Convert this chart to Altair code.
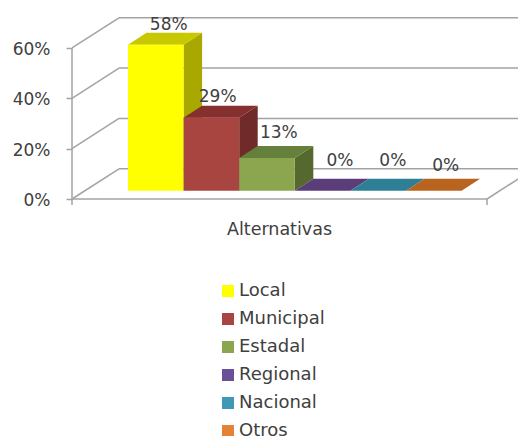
import altair as alt
import pandas as pd

categories = ["Local", "Municipal", "Estadal", "Regional", "Nacional", "Otros"]
values = [58, 29, 13, 0, 0, 0]
front_colors = ["#ffff00", "#a84541", "#8ca64f", "#6a4f99", "#3f98b5", "#e48336"]
top_colors = ["#c8c800", "#852f2e", "#64803a", "#5b3d7a", "#2e7f96", "#b8641f"]
side_colors = ["#a8a800", "#6f2a29", "#55692f", "#4c3366", "#266a7d", "#9c5319"]
grid_ticks = [0, 20, 40, 60]
font = "DejaVu Sans"
text_color = "#404040"
line_color = "#a3a3a3"

# drawing set-up of the pseudo 3D box
W, H = 510, 428
PX_X = 55.6      # pixels per bar
PX_Y = 2.517     # pixels per percent
X0 = 120         # left edge of the first bar
Y0 = 191         # the 0% line
BASE = 3.3       # lift of the bars above the front edge, in percent
BAR_DX, BAR_DY = 18.5 / PX_X, 12 / PX_Y
BOX_DX, BOX_DY = 47 / PX_X, 12.0
LEFT, RIGHT = (64 - X0) / PX_X, (479 - X0) / PX_X
# nudges of the value labels relative to the back of each bar (x in bars, y in percent)
label_dx = [-0.1, -0.22, -0.12, -0.02, -0.07, -0.12]
label_dy = [3.0, 3.4, 5.0, 7.2, 7.2, 5.2]

axis_x = alt.Axis(title="Alternativas", labels=False, ticks=False, domain=False, grid=False,
                  titleFont=font, titleFontSize=17.5, titleFontWeight="normal", titleColor=text_color,
                  titleX=271, titleY=-207, titleBaseline="middle", titleAlign="center")
axis_y = alt.Axis(values=grid_ticks, labelExpr="datum.value + '%'", title=None, domain=False,
                  grid=False, offset=-64, tickColor=line_color, tickWidth=1.5, tickSize=6, labelPadding=16,
                  labelOffset=1.5, labelFont=font, labelFontSize=17, labelColor=text_color)

xs = alt.Scale(domain=[-X0 / PX_X, (W - X0) / PX_X], nice=False, zero=False)
ys = alt.Scale(domain=[(Y0 - H) / PX_Y, Y0 / PX_Y], nice=False, zero=False)
X = lambda f: alt.X(f, type="quantitative", scale=xs, axis=axis_x)
Y = lambda f: alt.Y(f, type="quantitative", scale=ys, axis=axis_y)

front, side, top, labels = [], [], [], []
for i, (c, v) in enumerate(zip(categories, values)):
    t = BASE + v
    front.append(dict(c=c, x=i, x2=i + 1, y=BASE, y2=t))
    side.extend([
        dict(c=c, col=side_colors[i], x=i + 1, y=BASE, y2=t),
        dict(c=c, col=side_colors[i], x=i + 1 + BAR_DX, y=BASE + BAR_DY, y2=t + BAR_DY),
    ])
    top.extend([
        dict(c=c, col=top_colors[i], y=t, x=i, x2=i + 1),
        dict(c=c, col=top_colors[i], y=t + BAR_DY, x=i + BAR_DX, x2=i + 1 + BAR_DX),
    ])
    labels.append(dict(t=f"{v}%", x=i + 0.5 + BAR_DX + label_dx[i], y=t + BAR_DY + label_dy[i]))

# box lines
lines = []
for g in grid_ticks:
    lines.extend([
        dict(k=f"d{g}", x=LEFT, y=g),
        dict(k=f"d{g}", x=LEFT + BOX_DX, y=g + BOX_DY),
        dict(k=f"b{g}", x=LEFT + BOX_DX, y=g + BOX_DY),
        dict(k=f"b{g}", x=(W - X0) / PX_X, y=g + BOX_DY),
    ])
lines.extend([
    dict(k="front", x=LEFT, y=0), dict(k="front", x=RIGHT, y=0),
    dict(k="rd", x=RIGHT, y=0), dict(k="rd", x=RIGHT + BOX_DX, y=BOX_DY),
    dict(k="ax", x=LEFT, y=60), dict(k="ax", x=LEFT, y=-2.4),
    dict(k="rt", x=RIGHT, y=0), dict(k="rt", x=RIGHT, y=-2.4),
])

box = alt.Chart(pd.DataFrame(lines)).mark_line(color=line_color, strokeWidth=1.5, clip=True).encode(
    x=X("x"), y=Y("y"), detail="k:N", order="x:Q")

side_layer = alt.Chart(pd.DataFrame(side)).mark_area(clip=True).encode(
    x=X("x"), y=Y("y"), y2="y2", color=alt.Color("col:N", scale=None), detail="c:N")
top_layer = alt.Chart(pd.DataFrame(top)).mark_area(orient="horizontal", clip=True).encode(
    y=Y("y"), x=X("x"), x2="x2", color=alt.Color("col:N", scale=None), detail="c:N")
front_layer = alt.Chart(pd.DataFrame(front)).mark_rect(clip=True).encode(
    x=X("x"), x2="x2", y=Y("y"), y2="y2",
    color=alt.Color("c:N", sort=categories,
                    scale=alt.Scale(domain=categories, range=front_colors),
                    legend=alt.Legend(orient="none", legendX=211, legendY=274, title=None,
                                      symbolType="square", symbolSize=144, symbolStrokeWidth=0,
                                      labelFont=font, labelFontSize=18, labelColor=text_color,
                                      labelOffset=2, rowPadding=10)))
text_layer = alt.Chart(pd.DataFrame(labels)).mark_text(
    font=font, fontSize=17, color=text_color, baseline="middle", align="center").encode(
    x=X("x"), y=Y("y"), text="t:N")

chart = alt.layer(box, side_layer, top_layer, front_layer, text_layer).properties(
    width=W, height=H, padding=0, autosize=alt.AutoSizeParams(type="none"),
    background="white"
).configure_view(stroke=None)

chart.save("out.html", embed_options={"renderer": "svg", "actions": False})
